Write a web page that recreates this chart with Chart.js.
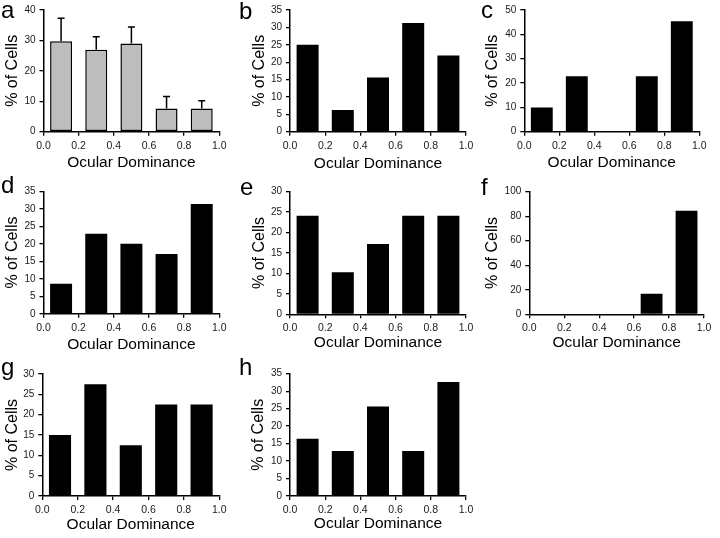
<!DOCTYPE html>
<html><head><meta charset="utf-8">
<script src="https://cdn.jsdelivr.net/npm/chart.js@4/dist/chart.umd.min.js"></script>
<style>
html,body{margin:0;padding:0;background:#fff;width:720px;height:538px;overflow:hidden;}
#wrap{position:relative;width:720px;height:538px;}
#wrap canvas{position:absolute;}
.lbl{position:absolute;font-family:'Liberation Sans',Arial,sans-serif;font-size:24px;line-height:24px;color:#000;}
</style></head><body><div id="wrap"></div>
<script>
// ---- data ----
const binCenters = [0.1, 0.3, 0.5, 0.7, 0.9];
const xTickLabels = ['0.0', '0.2', '0.4', '0.6', '0.8', '1.0'];
const panelLetters = ['a', 'b', 'c', 'd', 'e', 'f', 'g', 'h'];
const valuesA = [29.7, 26.9, 29.0, 7.6, 7.6];
const errorsA = [7.6, 4.3, 5.4, 4.0, 2.6];
const valuesB = [25.0, 6.25, 15.6, 31.25, 21.9];
const valuesC = [9.9, 22.8, 0, 22.8, 45.4];
const valuesD = [8.6, 22.9, 20.0, 17.1, 31.4];
const valuesE = [24.1, 10.3, 17.2, 24.1, 24.1];
const valuesF = [0, 0, 0, 16.8, 84.5];
const valuesG = [15.0, 27.5, 12.5, 22.5, 22.5];
const valuesH = [16.4, 12.9, 25.6, 12.9, 32.6];
const yMaxes = [40, 35, 50, 35, 30, 100, 30, 35];
const ySteps = [10, 5, 10, 5, 5, 20, 5, 5];
const xTitleText = 'Ocular Dominance';
const yTitleText = '% of Cells';
const allValues = [valuesA, valuesB, valuesC, valuesD, valuesE, valuesF, valuesG, valuesH];
const allErrors = [errorsA, null, null, null, null, null, null, null];

// ---- layout (pixels) ----
// cl,ct: canvas origin; pl,pt,pr,pb: plot area; xt: x-title centre y; yt: y-title centre x; lx,lb: letter left & baseline
const layoutSpec = [
  {cl:0,   ct:0,   pl:43.5,  pt:9.3,   pr:219.3, pb:131.7, xt:163,   yt:12.8,  lx:1,   lb:18.3},
  {cl:240, ct:0,   pl:290,   pt:9.3,   pr:466,   pb:131.7, xt:163.3, yt:259.5, lx:239, lb:19.3},
  {cl:480, ct:0,   pl:524.3, pt:9.3,   pr:699.3, pb:131.7, xt:163,   yt:492.8, lx:481, lb:18.3},
  {cl:0,   ct:178, pl:43.5,  pt:191.3, pr:219.3, pb:313.8, xt:345,   yt:12.8,  lx:1,   lb:193.3},
  {cl:240, ct:178, pl:290,   pt:191.7, pr:466,   pb:314.3, xt:342.5, yt:259.5, lx:240, lb:195},
  {cl:480, ct:178, pl:529.3, pt:191.7, pr:704,   pb:314.3, xt:343,   yt:492.5, lx:481, lb:195},
  {cl:0,   ct:358, pl:42.3,  pt:374,   pr:219.3, pb:496,   xt:525,   yt:12.2,  lx:1,   lb:375},
  {cl:240, ct:358, pl:290,   pt:373.7, pr:466,   pb:496,   xt:524,   yt:258.8, lx:239, lb:375}
];

const FONT = "'Liberation Sans', Arial, sans-serif";
const TEXT = '#1a1a1a';

const errorBarPlugin = {
  id: 'errorBars',
  afterDatasetsDraw(chart, args, opts) {
    const errs = opts && opts.errors;
    if (!errs) return;
    const meta = chart.getDatasetMeta(0);
    const ys = chart.scales.y;
    const ctx = chart.ctx;
    ctx.save();
    ctx.strokeStyle = '#000';
    ctx.lineWidth = 1.5;
    meta.data.forEach((bar, i) => {
      const v = chart.data.datasets[0].data[i].y;
      const yTop = ys.getPixelForValue(v + errs[i]);
      const yBase = ys.getPixelForValue(v);
      ctx.beginPath();
      ctx.moveTo(bar.x, yBase);
      ctx.lineTo(bar.x, yTop);
      ctx.moveTo(bar.x - 3.5, yTop);
      ctx.lineTo(bar.x + 3.5, yTop);
      ctx.stroke();
    });
    ctx.restore();
  }
};

const wrap = document.getElementById('wrap');

layoutSpec.forEach((L, k) => {
  const W = Math.ceil(L.pr + 14 - L.cl);
  const H = Math.ceil(L.xt + 9.3 - L.ct);
  const cv = document.createElement('canvas');
  cv.width = W; cv.height = H;
  cv.style.left = L.cl + 'px'; cv.style.top = L.ct + 'px';
  cv.style.width = W + 'px'; cv.style.height = H + 'px';
  wrap.appendChild(cv);

  const letter = document.createElement('div');
  letter.className = 'lbl';
  letter.textContent = panelLetters[k];
  letter.style.left = L.lx + 'px';
  letter.style.top = (L.lb - 20.3) + 'px';
  wrap.appendChild(letter);

  const yW = L.pl - L.cl;
  const xH = (L.ct + H) - L.pb;
  const isGray = k === 0;

  new Chart(cv, {
    type: 'bar',
    data: {
      datasets: [{
        data: binCenters.map((x, i) => ({x: x, y: allValues[k][i]})),
        backgroundColor: isGray ? '#bdbdbd' : '#000',
        borderColor: '#000',
        borderWidth: isGray ? 1.5 : 0,
        borderSkipped: false,
        barPercentage: 0.625,
        categoryPercentage: 1.0
      }]
    },
    options: {
      responsive: false,
      animation: false,
      devicePixelRatio: 1,
      layout: {padding: {left: 0, top: L.pt - L.ct, right: (L.cl + W) - L.pr, bottom: 0}},
      plugins: {
        legend: {display: false},
        tooltip: {enabled: false},
        errorBars: {errors: allErrors[k]}
      },
      scales: {
        x: {
          type: 'linear', min: 0, max: 1, offset: false,
          afterFit: (s) => { s.height = xH; },
          border: {display: true, color: '#000', width: 1.5},
          grid: {display: true, drawOnChartArea: false, drawTicks: true, tickLength: 4, color: '#000', lineWidth: 1.3, offset: false},
          ticks: {
            stepSize: 0.2, maxRotation: 0, autoSkip: false, padding: 4,
            color: TEXT, font: {family: FONT, size: 10.5},
            callback: (v, i) => xTickLabels[i]
          },
          title: {display: true, text: xTitleText, color: '#000',
                  font: {family: FONT, size: 15.5, lineHeight: 1.2},
                  padding: {top: 0, bottom: (L.ct + H) - 9.3 - L.xt}}
        },
        y: {
          type: 'linear', min: 0, max: yMaxes[k],
          afterFit: (s) => { s.width = yW; },
          border: {display: true, color: '#000', width: 1.5},
          grid: {display: true, drawOnChartArea: false, drawTicks: true, tickLength: 4, color: '#000', lineWidth: 1.3},
          ticks: {stepSize: ySteps[k], padding: 4, color: TEXT, font: {family: FONT, size: 10}},
          title: {display: true, text: yTitleText, color: '#000',
                  font: {family: FONT, size: 16, lineHeight: 1.2},
                  padding: {top: L.yt - L.cl - 9.6, bottom: 0}}
        }
      }
    },
    plugins: [errorBarPlugin]
  });
});
</script>
</body></html>
